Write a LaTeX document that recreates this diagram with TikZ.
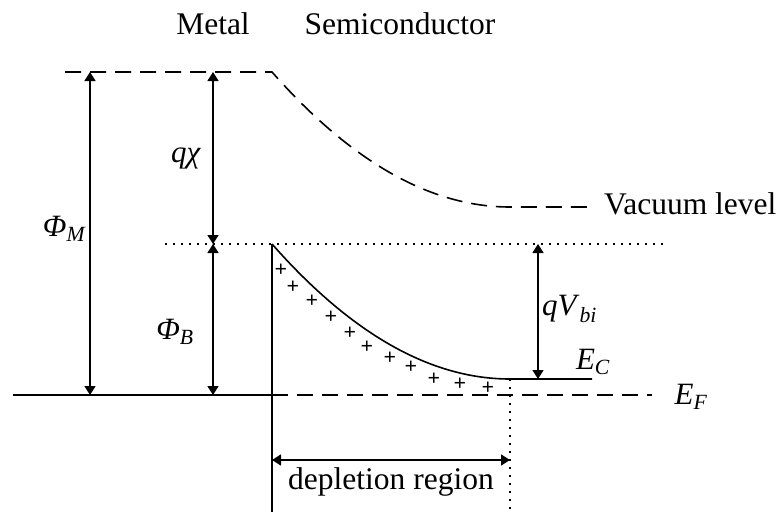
\documentclass[tikz,border=0pt]{standalone}
\usepackage{amsmath}
\usepackage{fontspec}
\setmainfont{Liberation Serif}
\usepackage{tikz}
\usetikzlibrary{arrows.meta}

\begin{document}
\begin{tikzpicture}[x=1pt, y=-1pt, line width=1.6pt,
    font=\fontsize{31.5}{36}\selectfont,
    level/.style={dash pattern=on 16pt off 9pt},
    barrier/.style={dash pattern=on 1.6pt off 6.4pt},
    gap/.style={{Triangle[length=9pt,width=11pt]}-{Triangle[length=9pt,width=11pt]}},
    sym/.style={font=\fontsize{31}{36}\selectfont},
    plus/.style={font=\fontsize{22}{22}\selectfont\bfseries, inner sep=0pt}]
\useasboundingbox (0,0) rectangle (782,514);

% reference points
\coordinate (vacL)  at (65,72);
\coordinate (vacJ)  at (272,72);
\coordinate (vacS)  at (510,207);
\coordinate (vacR)  at (590,207);
\coordinate (topL)  at (165,244);
\coordinate (topJ)  at (272,244);
\coordinate (topR)  at (665,244);
\coordinate (fermiL) at (13,395);
\coordinate (fermiJ) at (272,395);
\coordinate (fermiR) at (652,395);
\coordinate (bandS) at (510,379);
\coordinate (bandR) at (592,379);
\coordinate (wallB) at (272,512);
\coordinate (edgeB) at (510,512);

% energy levels
\draw[level] (vacL) -- (vacJ) .. controls (351.3,162) and (430.7,207) .. (vacS) -- (vacR);
\draw[barrier] (topL) -- (topR);
\draw (fermiL) -- (fermiJ);
\draw[level] (fermiJ) -- (fermiR);
\draw (topJ) -- (wallB);
\draw (topJ) .. controls (351.3,334) and (430.7,379) .. (bandS) -- (bandR);
\draw[barrier] (bandS) -- (edgeB);

% arrows
\coordinate (phiMtop) at (90,72);
\coordinate (phiMbot) at (90,395);
\coordinate (chiTop) at (213,72);
\coordinate (chiBot) at (213,244);
\coordinate (phiBbot) at (213,395);
\coordinate (vbiTop) at (538,244);
\coordinate (vbiBot) at (538,379);
\coordinate (depL) at (272,460);
\coordinate (depR) at (510,460);
\draw[gap] (phiMtop) -- (phiMbot);
\draw[gap] (chiTop) -- (chiBot);
\draw[gap] (chiBot) -- (phiBbot);
\draw[gap] (vbiTop) -- (vbiBot);
\draw[gap] (depL) -- (depR);

% depletion charge
\foreach \px/\py [count=\i] in {281/270, 293/287, 312/301, 331/317, 350/333,
    367/347, 390/358, 411/367, 434/379, 460/384, 488/388}
  \node[plus] (plus\i) at (\px,\py) {+};

% labels
\node (metal) at (213,24) {Metal};
\node (semi) at (400,24) {Semiconductor};
\node[anchor=west] (vacuum) at (600,204) {Vacuum level};
\node[sym] (qchi) at (186,158) {\textit{qχ}};
\node[sym] (phiM) at (64,229) {$\textit{Φ}_{\textit{M}}$};
\node[sym] (phiB) at (175,332) {$\textit{Φ}_{\textit{B}}$};
\node[sym, anchor=west] (qvbi) at (538,309) {\textit{qV}$_{\textit{bi}}$};
\node[sym] (ec) at (593,362) {$\textit{E}_{\textit{C}}$};
\node[sym] (ef) at (691,397) {$\textit{E}_{\textit{F}}$};
\node (depl) at (391,482) {depletion region};
\end{tikzpicture}
\end{document}
